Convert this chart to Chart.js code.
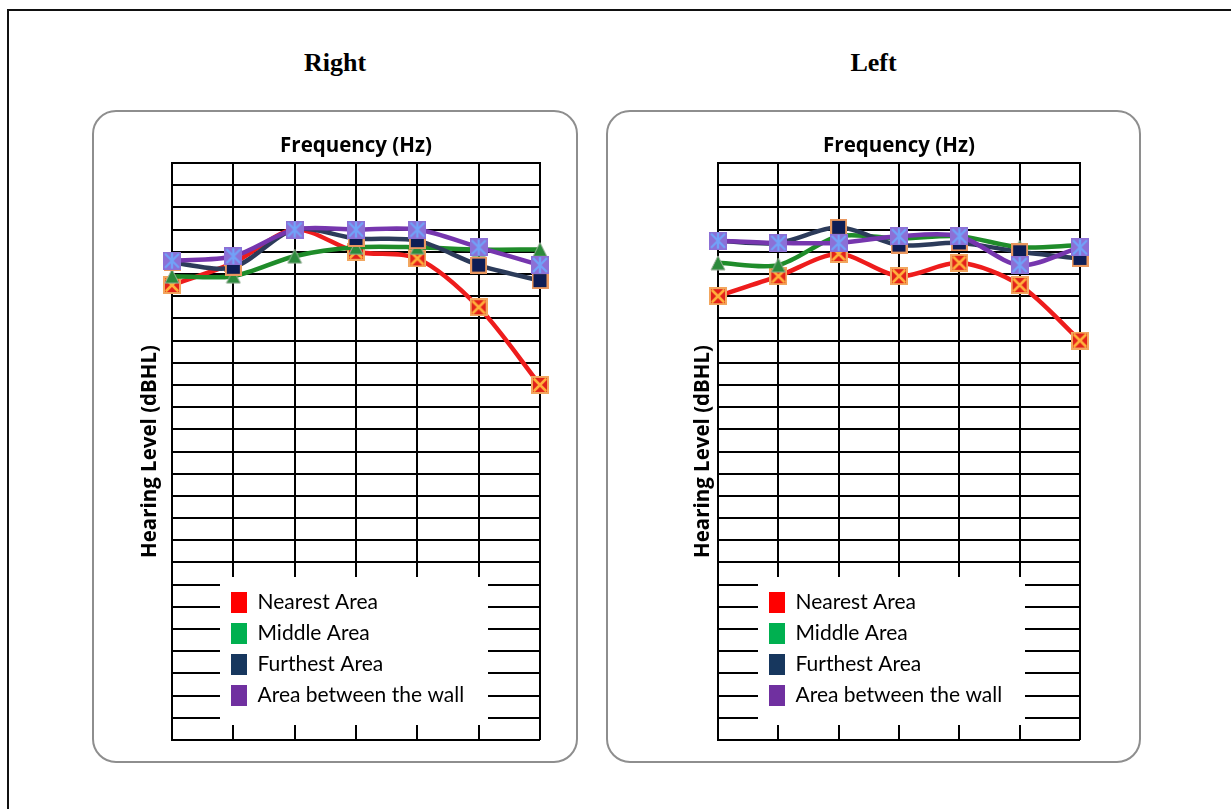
<!DOCTYPE html>
<html>
<head>
<meta charset="utf-8">
<script src="https://cdn.jsdelivr.net/npm/chart.js@4.4.1/dist/chart.umd.min.js"></script>
<style>
  html, body { margin: 0; padding: 0; background: #fff; }
  body { width: 1231px; height: 809px; position: relative; overflow: hidden; }
  .frame { position: absolute; left: 7px; top: 9px; width: 1300px; height: 900px; border-left: 2px solid #111; border-top: 2px solid #111; }
  .panel { position: absolute; border: 2px solid #8e8e8e; border-radius: 24px; box-sizing: border-box; background: #fff; }
  .ear { position: absolute; font: bold 26px "Liberation Serif", "Times New Roman", serif; color: #000; text-align: center; line-height: 30px; }
  canvas { position: absolute; }
</style>
</head>
<body>
<div class="frame"></div>
<div class="ear" id="tR" style="left:92px; top:48px; width:486px;">Right</div>
<div class="ear" id="tL" style="left:606px; top:48px; width:535px;">Left</div>
<div class="panel" style="left:92px; top:110px; width:486px; height:653px;"></div>
<div class="panel" style="left:606px; top:110px; width:535px; height:653px;"></div>
<canvas id="cR" width="486" height="653" style="left:92px; top:110px;"></canvas>
<canvas id="cL" width="535" height="653" style="left:606px; top:110px;"></canvas>
<script>
// ---------------- data ----------------
const frequencies = ['250', '500', '1000', '2000', '3000', '4000', '8000'];
const hearingTicks = [-10, -5, 0, 5, 10, 15, 20, 25, 30, 35, 40, 45, 50, 55, 60, 65, 70, 75, 80, 85, 90, 95, 100, 105, 110, 115, 120];
const seriesNames = ['Nearest Area', 'Middle Area', 'Furthest Area', 'Area between the wall'];

// Right ear (dBHL)
const rightNearest  = [17.5, 12.5, 5, 10, 11.5, 22.5, 40];
const rightMiddle   = [15.5, 15.5, 11, 9, 9, 9.5, 9.5];
const rightFurthest = [12.5, 13.5, 5, 7, 7.5, 13, 16.5];
const rightBetween  = [12, 11, 5, 5, 5, 9, 13];

// Left ear (dBHL)
const leftNearest  = [20, 15.5, 10.5, 15.5, 12.5, 17.5, 30];
const leftMiddle   = [12.5, 13, 6.5, 7, 6.5, 9, 8.5];
const leftFurthest = [7.5, 8, 4.5, 8.5, 8, 10, 11.5];
const leftBetween  = [7.5, 8, 8, 6.5, 6.5, 13, 9];

// ---------------- styles ----------------
const lineColors = ['#ee1c1c', '#1f8c2a', '#2c3b5a', '#7636ae'];
const legendColors = ['#ff0000', '#00b050', '#17375e', '#7030a0'];

function mk(size, draw) {
  const c = document.createElement('canvas');
  c.width = size; c.height = size;
  draw(c.getContext('2d'), size);
  return c;
}
const markerNear = mk(18, (g, s) => {
  g.fillStyle = '#f2a65e'; g.fillRect(0, 0, s, s);
  g.fillStyle = '#e3211a'; g.fillRect(2, 2, s - 4, s - 4);
  g.strokeStyle = '#ffb13b'; g.lineWidth = 2.6; g.lineCap = 'round';
  g.beginPath(); g.moveTo(3.5, 3.5); g.lineTo(s - 3.5, s - 3.5); g.moveTo(s - 3.5, 3.5); g.lineTo(3.5, s - 3.5); g.stroke();
});
const markerMid = mk(16, (g, s) => {
  g.beginPath(); g.moveTo(s / 2, 1); g.lineTo(s - 1, s - 1); g.lineTo(1, s - 1); g.closePath();
  g.fillStyle = '#2c8a3c'; g.fill();
  g.strokeStyle = '#9ab09a'; g.lineWidth = 1; g.stroke();
});
const markerFar = mk(17, (g, s) => {
  g.fillStyle = '#e9975f'; g.fillRect(0, 0, s, s);
  g.fillStyle = '#0e1d55'; g.fillRect(2, 2, s - 4, s - 4);
});
const markerBetween = mk(18, (g, s) => {
  g.fillStyle = '#8c70d6'; g.fillRect(0, 0, s, s);
  g.strokeStyle = '#72a2f8'; g.lineWidth = 2.4;
  g.beginPath();
  g.moveTo(2, 2); g.lineTo(s - 2, s - 2);
  g.moveTo(s - 2, 2); g.lineTo(2, s - 2);
  g.moveTo(s / 2, 1); g.lineTo(s / 2, s - 1);
  g.stroke();
});
const markers = [markerNear, markerMid, markerFar, markerBetween];

// ---------------- plugin: white legend panel + legend placement ----------------
const audioPanel = {
  id: 'audioPanel',
  beforeLayout(chart) {
    const lg = chart.legend;
    if (lg) lg._layers = () => [{ z: 1, draw: (ca) => lg.draw(ca) }];
  },
  afterLayout(chart, args, o) {
    const lg = chart.legend;
    if (!lg) return;
    lg.left = o.legendLeft; lg.top = o.legendTop;
    lg.width = o.legendW; lg.height = o.legendH;
    lg.right = o.legendLeft + o.legendW; lg.bottom = o.legendTop + o.legendH;
  },
  beforeDatasetsDraw(chart, args, o) {
    const ctx = chart.ctx;
    ctx.save();
    ctx.fillStyle = '#ffffff';
    ctx.fillRect(o.boxL, o.boxT, o.boxW, o.boxH);
    ctx.restore();
  }
};

function buildChart(canvasId, panel, plot, legendBox, yTitleX, values) {
  const datasets = values.map((vals, i) => ({
    label: seriesNames[i],
    data: vals,
    borderColor: lineColors[i],
    backgroundColor: lineColors[i],
    borderWidth: 4.5,
    tension: 0.3,
    fill: false,
    clip: false,
    pointStyle: markers[i],
    pointRadius: 8,
    order: 4 - i
  }));
  const gridStyle = { color: '#000', lineWidth: 2, drawTicks: false };
  const borderStyle = { display: true, color: '#000', width: 2 };
  const titleFont = { family: 'Open Sans', weight: 'bold', size: 20.5 };
  const half = 20.5 * 1.2 / 2;
  return new Chart(document.getElementById(canvasId), {
    type: 'line',
    data: { labels: frequencies, datasets },
    plugins: [audioPanel],
    options: {
      responsive: false,
      animation: false,
      devicePixelRatio: 1,
      events: [],
      layout: {
        autoPadding: false,
        padding: { left: 0, top: 0, right: panel.w - (plot.r - panel.x), bottom: panel.h - (plot.b - panel.y) }
      },
      scales: {
        x: {
          type: 'category',
          position: 'top',
          offset: false,
          grid: Object.assign({ offset: false }, gridStyle),
          border: borderStyle,
          ticks: { display: false },
          title: { display: true, text: 'Frequency (Hz)', color: '#000', font: titleFont, padding: { top: 36 - half, bottom: 0 } },
          afterFit: (s) => { s.height = plot.t - panel.y; }
        },
        y: {
          type: 'linear',
          position: 'left',
          reverse: true,
          min: -10,
          max: 120,
          afterBuildTicks: (s) => { s.ticks = hearingTicks.map(v => ({ value: v })); },
          grid: gridStyle,
          border: borderStyle,
          ticks: { display: false },
          title: { display: true, text: 'Hearing Level (dBHL)', color: '#000', font: titleFont, padding: { top: (yTitleX - panel.x) - half, bottom: 0 } },
          afterFit: (s) => { s.width = plot.l - panel.x; }
        }
      },
      plugins: {
        tooltip: { enabled: false },
        legend: {
          display: true,
          position: 'chartArea',
          align: 'start',
          labels: {
            boxWidth: 16,
            boxHeight: 21,
            padding: 10,
            color: '#000',
            font: { family: 'Lato', size: 21 },
            generateLabels: (chart) => chart.data.datasets.map((ds, i) => ({
              text: ds.label,
              fillStyle: legendColors[i],
              strokeStyle: legendColors[i],
              fontColor: '#000',
              lineWidth: 0,
              hidden: false,
              datasetIndex: i
            }))
          }
        },
        audioPanel: {
          legendLeft: legendBox.sqX - 10 - panel.x,
          legendTop: legendBox.sqY - 10 - panel.y,
          legendW: legendBox.r - legendBox.sqX + 10,
          legendH: 150,
          boxL: legendBox.l - panel.x,
          boxT: legendBox.t - panel.y,
          boxW: legendBox.r - legendBox.l,
          boxH: legendBox.b - legendBox.t
        }
      }
    }
  });
}

buildChart('cR',
  { x: 92, y: 110, w: 486, h: 653 },
  { l: 172, t: 163, r: 540, b: 740 },
  { l: 220, t: 577, r: 488, b: 725, sqX: 231, sqY: 592 },
  150,
  [rightNearest, rightMiddle, rightFurthest, rightBetween]);

buildChart('cL',
  { x: 606, y: 110, w: 535, h: 653 },
  { l: 718, t: 163, r: 1080, b: 740 },
  { l: 758, t: 577, r: 1025, b: 725, sqX: 769, sqY: 592 },
  703,
  [leftNearest, leftMiddle, leftFurthest, leftBetween]);
</script>
</body>
</html>
